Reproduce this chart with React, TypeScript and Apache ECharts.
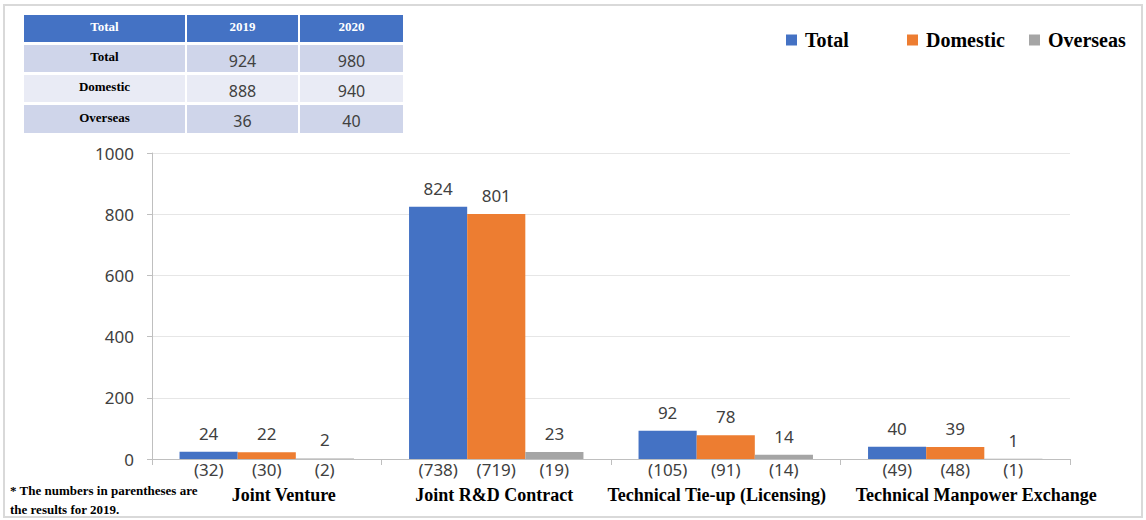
import React, { useEffect, useRef } from "react";
import * as echarts from "echarts";

const categories = ["Joint Venture", "Joint R&D Contract", "Technical Tie-up (Licensing)", "Technical Manpower Exchange"];
const seriesNames = ["Total", "Domestic", "Overseas"];
const total2020 = [24, 824, 92, 40];
const domestic2020 = [22, 801, 78, 39];
const overseas2020 = [2, 23, 14, 1];
const total2019 = [32, 738, 105, 49];
const domestic2019 = [30, 719, 91, 48];
const overseas2019 = [2, 19, 14, 1];
const yTicks = [0, 200, 400, 600, 800, 1000];

const tableHeader = ["Total", "2019", "2020"];
const tableRows = ["Total", "Domestic", "Overseas"];
const table2019 = [924, 888, 36];
const table2020 = [980, 940, 40];

const colors = ["#4472c4", "#ed7d31", "#a5a5a5"];
const SANS = "'Noto Sans', 'Open Sans', sans-serif";
const SERIF = "'Liberation Serif', 'Times New Roman', serif";

export default function App() {
  const ref = useRef<HTMLDivElement>(null);
  useEffect(() => {
    if (!ref.current) return;
    const chart = echarts.init(ref.current, null, { renderer: "svg" });

    const colX = [[24, 185], [187, 298], [300, 403]];
    const rowY = [[15, 42], [45, 72], [75, 102], [105, 133]];
    const graphics: any[] = [];
    graphics.push({
      type: "rect",
      shape: { x: 4, y: 5, width: 1138, height: 512 },
      style: { fill: "none", stroke: "#d9d9d9", lineWidth: 2 },
      silent: true,
    });
    const cellTexts: string[][] = [tableHeader];
    tableRows.forEach((r, i) => cellTexts.push([r, String(table2019[i]), String(table2020[i])]));
    cellTexts.forEach((row, ri) => {
      row.forEach((txt, ci) => {
        const [x0, x1] = colX[ci];
        const [y0, y1] = rowY[ri];
        const fill = ri === 0 ? "#4472c4" : ri % 2 === 1 ? "#cfd5ea" : "#e9ebf5";
        graphics.push({
          type: "rect",
          shape: { x: x0, y: y0, width: x1 - x0, height: y1 - y0 },
          style: { fill },
          silent: true,
        });
        const isLabel = ri === 0 || ci === 0;
        graphics.push({
          type: "text",
          x: (x0 + x1) / 2,
          y: isLabel ? (y0 + y1) / 2 - 2 : (y0 + y1) / 2 + 2,
          style: {
            text: txt,
            align: "center",
            verticalAlign: "middle",
            fill: ri === 0 ? "#ffffff" : isLabel ? "#000000" : "#404040",
            font: isLabel ? `bold 13px ${SERIF}` : `16px ${SANS}`,
          },
          silent: true,
        });
      });
    });
    graphics.push({
      type: "text",
      x: 10,
      y: 481,
      style: {
        text: "* The numbers in parentheses are\nthe results for 2019.",
        fill: "#000000",
        font: `bold 13px ${SERIF}`,
        lineHeight: 19,
      },
      silent: true,
    });

    const values2020 = [total2020, domestic2020, overseas2020];
    const values2019 = [total2019, domestic2019, overseas2019];
    const legendLeft = [781, 902, 1024];
    const namePad = [[0, 0, 0, 34], [0, 4, 0, 0], [0, 18, 0, 0], [0, 0, 0, 42]];

    const rich: any = {
      p: { width: 58, align: "center", fontSize: 17, fontFamily: SANS, color: "#404040", lineHeight: 20 },
    };
    namePad.forEach((pad, i) => {
      rich["n" + i] = {
        fontSize: 18,
        fontFamily: SERIF,
        fontWeight: "bold",
        color: "#000",
        lineHeight: 32,
        padding: pad,
      };
    });

    chart.setOption({
      animation: false,
      color: colors,
      grid: { left: 152, right: 76, top: 153, bottom: 61 },
      legend: seriesNames.map((n, i) => ({
        data: [n],
        left: legendLeft[i],
        top: 25,
        icon: "rect",
        itemWidth: 11,
        itemHeight: 11,
        itemGap: 0,
        textStyle: { fontFamily: SERIF, fontWeight: "bold", fontSize: 20, color: "#000", padding: [0, 0, 0, 3] },
      })),
      xAxis: {
        type: "category",
        data: categories,
        axisLine: { lineStyle: { color: "#bfbfbf" } },
        axisTick: { show: true, length: 6, lineStyle: { color: "#bfbfbf" } },
        axisLabel: {
          interval: 0,
          margin: 0,
          formatter: (_v: string, idx: number) =>
            values2019.map((arr) => `{p|(${arr[idx]})}`).join("") + `\n{n${idx}|${categories[idx]}}`,
          rich,
        },
      },
      yAxis: {
        type: "value",
        min: 0,
        max: 1000,
        interval: 200,
        axisLine: { show: true, lineStyle: { color: "#bfbfbf" } },
        axisTick: { show: true, length: 5, lineStyle: { color: "#bfbfbf" } },
        splitLine: { lineStyle: { color: "#e6e6e6" } },
        axisLabel: {
          margin: 18,
          fontSize: 17,
          fontFamily: SANS,
          color: "#404040",
          formatter: (v: number) => (yTicks.includes(v) ? String(v) : ""),
        },
      },
      series: seriesNames.map((n, i) => ({
        name: n,
        type: "bar",
        data: values2020[i],
        barGap: "0%",
        barCategoryGap: "24%",
        itemStyle: { color: colors[i] },
        label: {
          show: true,
          position: "top",
          distance: 10,
          fontSize: 17,
          fontFamily: SANS,
          color: "#404040",
        },
      })),
      graphic: graphics,
    });
    return () => chart.dispose();
  }, []);
  return (
    <div
      ref={ref}
      style={{ position: "fixed", left: 0, top: 0, width: 1146, height: 520, background: "#fff" }}
    />
  );
}
